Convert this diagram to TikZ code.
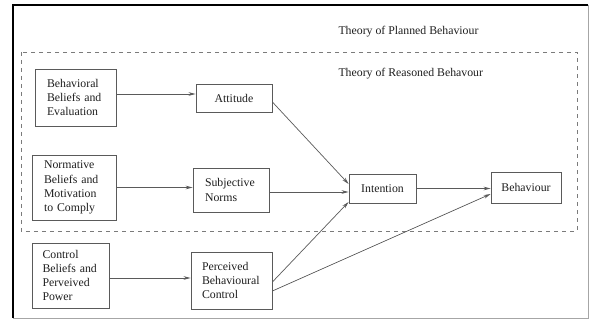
\documentclass[tikz,border=0pt]{standalone}
\usepackage{fontspec}
\setmainfont{Liberation Serif}
\usetikzlibrary{arrows.meta,calc}
\definecolor{linegray}{HTML}{5A5A5A}
\definecolor{txt}{HTML}{1E1E1E}
\begin{document}
\begin{tikzpicture}[x=1pt,y=-1pt,
  every node/.style={font=\fontsize{11.8}{14.2}\selectfont, text=txt},
  box/.style={draw=linegray, line width=0.8pt, inner sep=0pt, align=left},
  arr/.style={draw=linegray, line width=0.7pt, -{Stealth[length=7pt,width=3.6pt]}},
  ln/.style={draw=linegray, line width=0.7pt}]
\useasboundingbox (0,0) rectangle (590,320);
% outer frame
\draw[black, line width=1.6pt] (13,318) -- (13,5) -- (588,5);
\draw[gray!70, line width=0.9pt] (588,5) -- (588,318) -- (13,318);
% dashed frame
\draw[linegray!80, line width=0.7pt, dash pattern=on 4pt off 4pt] (21,52) rectangle (577,231);
% titles
\node[anchor=west] (tpb) at (335,32) {Theory of Planned Behaviour};
\node[anchor=west] (trb) at (335,74) {Theory of Reasoned Behavour};
% boxes
\node[box, minimum width=81pt, minimum height=57pt, text width=57pt] (bb) at (75.5,97.5) {Behavioral\\Beliefs and\\Evaluation};
\node[box, minimum width=76pt, minimum height=28pt, align=center] (att) at (234,98) {Attitude};
\node[box, minimum width=84pt, minimum height=65pt, text width=60pt] (nb) at (74,187.5) {Normative\\Beliefs and\\Motivation\\to Comply};
\node[box, minimum width=76pt, minimum height=44pt, text width=52pt] (sn) at (231,190) {Subjective\\Norms};
\node[box, minimum width=67pt, minimum height=29pt, align=center] (int) at (382.5,188.5) {Intention};
\node[box, minimum width=70pt, minimum height=31pt, align=center] (beh) at (526,187.5) {Behaviour};
\node[box, minimum width=77pt, minimum height=65pt, text width=56pt] (cb) at (70.5,275.5) {Control\\Beliefs and\\Perveived\\Power};
\node[box, minimum width=81pt, minimum height=57pt, text width=59pt] (pbc) at (231.5,280.5) {Perceived\\Behavioural\\Control};
% connectors
\draw[arr] ([yshift=3.5pt]bb.east) -- ([yshift=3.5pt]bb.east -| att.west);
\draw[arr] ([yshift=-4pt]att.east) -- ([yshift=4.5pt]int.west);
\draw[arr] (nb.east) -- (nb.east -| sn.west);
\draw[arr] ([yshift=-2pt]sn.east) -- ([yshift=-2pt]sn.east -| int.west);
\draw[arr] (int.east) -- (int.east -| beh.west);
\draw[arr] ([yshift=-2.5pt]cb.east) -- ([yshift=-2.5pt]cb.east -| pbc.west);
\draw[arr] ([yshift=-1.5pt]pbc.east) -- ([yshift=-13.5pt]int.west);
\draw[arr] ([yshift=-10.5pt]pbc.east) -- ([yshift=-6.5pt]beh.west);
\end{tikzpicture}
\end{document}
